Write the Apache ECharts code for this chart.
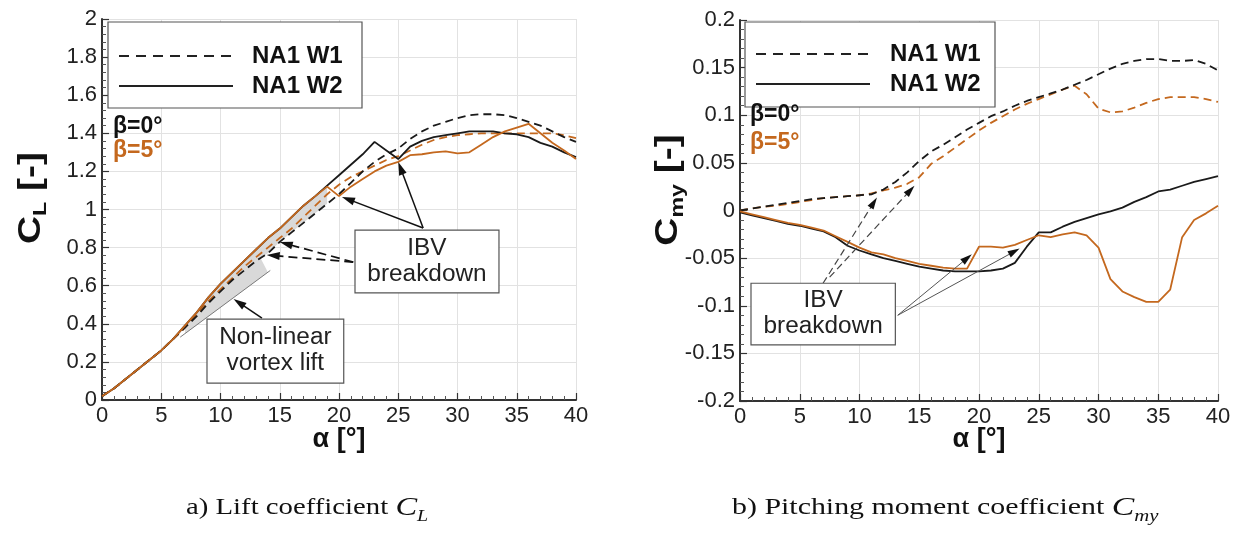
<!DOCTYPE html>
<html><head><meta charset="utf-8">
<script src="https://cdn.jsdelivr.net/npm/echarts@6/dist/echarts.min.js"></script>
<style>html,body{margin:0;padding:0;background:#fff}#c{width:1237px;height:535px}</style>
</head><body><div id="c"></div>
<script>
// ---------------- DATA ----------------
const alpha = [0,1,2,3,4,5,6,7,8,9,10,11,12,13,14,15,16,17,18,19,20,21,22,23,24,25,26,27,28,29,30,31,32,33,34,35,36,37,38,39,40];

// Lift coefficient C_L
const clW1b0 = [0.02,0.06,0.11,0.16,0.21,0.26,0.32,0.38,0.44,0.51,0.57,0.63,0.68,0.73,0.77,0.83,0.88,0.93,0.98,1.03,1.08,1.14,1.20,1.25,1.29,1.32,1.37,1.41,1.44,1.46,1.48,1.495,1.50,1.50,1.495,1.48,1.46,1.44,1.41,1.38,1.355];
const clW1b5 = [0.02,0.06,0.11,0.16,0.21,0.26,0.32,0.38,0.45,0.52,0.58,0.64,0.70,0.75,0.80,0.85,0.90,0.96,1.02,1.08,1.13,1.17,1.20,1.23,1.26,1.28,1.31,1.34,1.365,1.38,1.39,1.395,1.40,1.40,1.40,1.40,1.40,1.40,1.40,1.39,1.375];
const clW2b0 = [0.02,0.06,0.11,0.16,0.21,0.26,0.32,0.39,0.46,0.54,0.61,0.67,0.73,0.79,0.85,0.90,0.96,1.02,1.07,1.125,1.18,1.235,1.29,1.355,1.31,1.265,1.33,1.36,1.38,1.39,1.40,1.41,1.41,1.41,1.40,1.395,1.38,1.35,1.33,1.30,1.275];
const clW2b5 = [0.02,0.06,0.11,0.16,0.21,0.26,0.32,0.39,0.46,0.54,0.61,0.67,0.73,0.79,0.85,0.90,0.96,1.02,1.07,1.12,1.07,1.12,1.16,1.20,1.23,1.25,1.285,1.29,1.30,1.305,1.295,1.30,1.34,1.38,1.41,1.43,1.45,1.40,1.35,1.31,1.265];
const linearLiftAlpha = [6.6, 14.2];
const linearLiftCL = [0.33, 0.68];

// Pitching moment coefficient C_my
const cmW1b0 = [0.0,0.002,0.004,0.006,0.008,0.010,0.012,0.013,0.014,0.015,0.016,0.017,0.022,0.030,0.040,0.052,0.062,0.069,0.077,0.085,0.092,0.099,0.104,0.110,0.115,0.119,0.123,0.127,0.132,0.137,0.143,0.149,0.154,0.157,0.159,0.159,0.157,0.157,0.158,0.154,0.147];
const cmW1b5 = [0.0,0.002,0.004,0.005,0.007,0.009,0.011,0.013,0.014,0.015,0.016,0.018,0.021,0.024,0.028,0.035,0.049,0.057,0.066,0.075,0.084,0.092,0.099,0.106,0.112,0.117,0.122,0.127,0.131,0.122,0.107,0.103,0.104,0.108,0.113,0.117,0.119,0.119,0.119,0.117,0.114];
const cmW2b0 = [-0.002,-0.005,-0.008,-0.011,-0.014,-0.016,-0.019,-0.022,-0.028,-0.037,-0.042,-0.046,-0.050,-0.053,-0.056,-0.059,-0.061,-0.063,-0.064,-0.064,-0.064,-0.063,-0.061,-0.055,-0.038,-0.023,-0.023,-0.017,-0.012,-0.008,-0.004,-0.001,0.003,0.009,0.014,0.020,0.022,0.026,0.030,0.033,0.036];
const cmW2b5 = [-0.001,-0.004,-0.007,-0.010,-0.013,-0.015,-0.018,-0.021,-0.027,-0.033,-0.039,-0.044,-0.046,-0.050,-0.053,-0.056,-0.058,-0.060,-0.061,-0.061,-0.038,-0.038,-0.039,-0.036,-0.031,-0.026,-0.028,-0.025,-0.023,-0.026,-0.039,-0.072,-0.085,-0.091,-0.096,-0.096,-0.083,-0.028,-0.010,-0.003,0.005];

// Axis ticks
const xTicks = {min:0, max:40, interval:5};
const clTicks = {min:0, max:2, interval:0.2};
const cmTicks = {min:-0.2, max:0.2, interval:0.05};

// Text
const legendNames = ['NA1 W1', 'NA1 W2'];
const betaLabels = ['β=0°', 'β=5°'];
const captionA = ['a) Lift coefficient ', 'C', 'L'];
const captionB = ['b) Pitching moment coefficient ', 'C', 'my'];
const boxIBV = ['IBV', 'breakdown'];
const boxVortex = ['Non-linear', 'vortex lift'];

// Annotations (data coordinates)
const annL = {
  ibvBox: [[21.35, 0.892], [33.5, 0.562]],
  ibvSolidFrom: [27.1, 0.903], ibvSolidTo: [[25.0, 1.249], [20.25, 1.066]],
  ibvDashFrom: [21.2, 0.724], ibvDashTo: [[13.9, 0.761], [15.0, 0.829]],
  vortexBox: [[8.86, 0.425], [20.4, 0.089]],
  vortexFrom: [13.5, 0.43], vortexTo: [11.1, 0.53]
};
const annR = {
  ibvBox: [[0.92, -0.0764], [13.0, -0.141]],
  dashFrom: [[6.95, -0.0764], [7.5, -0.070]], dashTo: [[11.46, 0.0136], [14.6, 0.026]],
  solidFrom: [13.2, -0.110], solidTo: [[19.4, -0.046], [23.4, -0.040]]
};

// ---------------- STYLE ----------------
const BLACK = '#1a1a1a', ORANGE = '#c4681e', SHADE = '#d9d9d9';
const SANS = '"Liberation Sans", Arial, sans-serif';
const SERIF = '"Liberation Serif", "Times New Roman", serif';

const zip = (xs, ys) => xs.map((x, i) => [x, ys[i]]);

function axisCommon(t) {
  return {
    type: 'value', min: t.min, max: t.max, interval: t.interval,
    axisLine: {show: true, onZero: false, lineStyle: {color: '#333', width: 2}},
    axisTick: {show: true, inside: true, length: 7, lineStyle: {color: '#333', width: 1.2}},
    minorTick: {show: true, splitNumber: 5, length: 4, lineStyle: {color: '#555', width: 1}},
    splitLine: {show: true, lineStyle: {color: '#e2e2e2', width: 1}},
    axisLabel: {color: '#222', fontSize: 22, fontFamily: SANS, margin: 5}
  };
}

function lineSeries(xi, yi, data, color, dashed, z) {
  return {
    type: 'line', xAxisIndex: xi, yAxisIndex: yi, data: data, showSymbol: false, symbol: 'none',
    animation: false, z: z,
    lineStyle: {color: color, width: 1.8, type: dashed ? [8, 5] : 'solid'}
  };
}

function polygonSeries(pts) {
  return {
    type: 'custom', xAxisIndex: 0, yAxisIndex: 0, z: 1, animation: false, silent: true,
    data: [0],
    renderItem: function (params, api) {
      return {type: 'polygon', shape: {points: pts.map(p => api.coord(p))}, style: {fill: SHADE, stroke: null}};
    }
  };
}

// shading polygons derived from the series arrays
const linAt = a => linearLiftCL[0] + (linearLiftCL[1] - linearLiftCL[0]) * (a - linearLiftAlpha[0]) / (linearLiftAlpha[1] - linearLiftAlpha[0]);
const vortexPoly = [];
for (let i = 7; i <= 13; i++) vortexPoly.push([alpha[i], clW2b0[i]]);
vortexPoly.push([14, linAt(14)], [7, linAt(7)]);
const gapPoly = [];
for (let i = 13; i <= 19; i++) gapPoly.push([alpha[i], clW2b0[i]]);
for (let i = 19; i >= 13; i--) gapPoly.push([alpha[i], clW1b0[i]]);

const chart = echarts.init(document.getElementById('c'), null, {renderer: 'canvas'});
const option = {
  backgroundColor: '#fff',
  animation: false,
  grid: [
    {left: 102, right: 1237 - 576, top: 19, bottom: 535 - 400},
    {left: 740, right: 1237 - 1218, top: 20, bottom: 535 - 401}
  ],
  xAxis: [
    Object.assign(axisCommon(xTicks), {gridIndex: 0}),
    Object.assign(axisCommon(xTicks), {gridIndex: 1})
  ],
  yAxis: [
    Object.assign(axisCommon(clTicks), {gridIndex: 0}),
    Object.assign(axisCommon(cmTicks), {gridIndex: 1})
  ],
  series: [
    polygonSeries(vortexPoly),
    polygonSeries(gapPoly),
    {type: 'line', xAxisIndex: 0, yAxisIndex: 0, data: zip(linearLiftAlpha, linearLiftCL), showSymbol: false,
     symbol: 'none', z: 2, lineStyle: {color: '#7a7a7a', width: 1}},
    lineSeries(0, 0, zip(alpha, clW1b5), ORANGE, true, 3),
    lineSeries(0, 0, zip(alpha, clW1b0), BLACK, true, 3),
    lineSeries(0, 0, zip(alpha, clW2b0), BLACK, false, 4),
    lineSeries(0, 0, zip(alpha, clW2b5), ORANGE, false, 4),
    lineSeries(1, 1, zip(alpha, cmW1b5), ORANGE, true, 3),
    lineSeries(1, 1, zip(alpha, cmW1b0), BLACK, true, 3),
    lineSeries(1, 1, zip(alpha, cmW2b0), BLACK, false, 4),
    lineSeries(1, 1, zip(alpha, cmW2b5), ORANGE, false, 4)
  ]
};
chart.setOption(option);

// ---------------- ANNOTATIONS ----------------
const px = (g, p) => chart.convertToPixel({gridIndex: g}, p);
const G = [];

function arrow(p0, p1, opt) {
  const dx = p1[0] - p0[0], dy = p1[1] - p0[1];
  const L = Math.hypot(dx, dy), ux = dx / L, uy = dy / L;
  const hl = opt.hl || 13, hw = opt.hw || 8;
  const bx = p1[0] - ux * hl, by = p1[1] - uy * hl;
  G.push({type: 'line', z: 50, shape: {x1: p0[0], y1: p0[1], x2: bx + ux * 2, y2: by + uy * 2},
    style: {stroke: opt.color, lineWidth: opt.lw, lineDash: opt.dash || null}});
  G.push({type: 'polygon', z: 51, shape: {points: [p1, [bx - uy * hw / 2, by + ux * hw / 2], [bx + uy * hw / 2, by - ux * hw / 2]]},
    style: {fill: opt.head || '#111'}});
}

function box(g, corners, lines, fontSize) {
  const a = px(g, corners[0]), b = px(g, corners[1]);
  const x = Math.min(a[0], b[0]), y = Math.min(a[1], b[1]);
  const w = Math.abs(b[0] - a[0]), h = Math.abs(b[1] - a[1]);
  G.push({type: 'rect', z: 60, shape: {x: x, y: y, width: w, height: h},
    style: {fill: '#fff', stroke: '#555', lineWidth: 1.2}});
  G.push({type: 'text', z: 61, x: x + w / 2, y: y + h / 2, scaleX: 1.06,
    style: {text: lines.join('\n'), font: fontSize + 'px ' + SANS, fill: '#222', align: 'center', verticalAlign: 'middle', lineHeight: fontSize + 3}});
}

// left chart annotations
annL.ibvSolidTo.forEach(t => arrow(px(0, annL.ibvSolidFrom), px(0, t), {color: '#111', lw: 1.5}));
annL.ibvDashTo.forEach(t => arrow(px(0, annL.ibvDashFrom), px(0, t), {color: '#111', lw: 1.7, dash: [9, 5]}));
arrow(px(0, annL.vortexFrom), px(0, annL.vortexTo), {color: '#111', lw: 1.5});
box(0, annL.ibvBox, boxIBV, 23);
box(0, annL.vortexBox, boxVortex, 23);

// right chart annotations
annR.dashTo.forEach((t, i) => arrow(px(1, annR.dashFrom[i]), px(1, t), {color: '#444', lw: 1.2, dash: [7, 4], hl: 12, hw: 7}));
annR.solidTo.forEach(t => arrow(px(1, annR.solidFrom), px(1, t), {color: '#555', lw: 1, hl: 12, hw: 7}));
box(1, annR.ibvBox, boxIBV, 23);

// legends
function legend(x, y, w, h, lx1, lx2, ly, tx) {
  G.push({type: 'rect', z: 70, shape: {x: x, y: y, width: w, height: h}, style: {fill: '#fff', stroke: '#555', lineWidth: 1.2}});
  G.push({type: 'line', z: 71, shape: {x1: lx1, y1: ly[0], x2: lx2, y2: ly[0]}, style: {stroke: '#222', lineWidth: 2, lineDash: [10, 7]}});
  G.push({type: 'line', z: 71, shape: {x1: lx1, y1: ly[1], x2: lx2, y2: ly[1]}, style: {stroke: '#222', lineWidth: 2}});
  legendNames.forEach((n, i) => G.push({type: 'text', z: 72, x: tx, y: ly[i],
    style: {text: n, font: 'bold 24px ' + SANS, fill: '#111', align: 'left', verticalAlign: 'middle'}}));
}
legend(108, 22, 254, 86, 119, 233, [56, 86], 252);
legend(745, 22, 250, 85, 756, 870, [54, 84], 890);

function betas(x, ys) {
  betaLabels.forEach((b, i) => G.push({type: 'text', z: 72, x: x, y: ys[i],
    style: {text: b, font: 'bold 23px ' + SANS, fill: i === 0 ? '#111' : ORANGE, align: 'left', verticalAlign: 'middle'}}));
}
betas(113, [127, 151]);
betas(750, [115, 143]);

// axis titles
function yTitle(x, y, sub) {
  G.push({type: 'text', z: 80, x: x, y: y, rotation: Math.PI / 2, scaleX: 1.22,
    style: {text: '{c|C}{s|' + sub + '}{c| [-]}', align: 'center', verticalAlign: 'middle',
      rich: {c: {font: 'bold 32px ' + SANS, fill: '#111', lineHeight: 38, verticalAlign: 'middle'},
             s: {font: 'bold 19px ' + SANS, fill: '#111', lineHeight: 38, verticalAlign: 'bottom'}}}});
}
yTitle(31, 198, 'L');
yTitle(668, 190, 'my');
[[339, 440], [979, 440]].forEach(p => G.push({type: 'text', z: 80, x: p[0], y: p[1],
  style: {text: 'α [°]', font: 'bold 27px ' + SANS, fill: '#111', align: 'center', verticalAlign: 'middle'}}));

// captions
function caption(x, y, parts, sx) {
  G.push({type: 'text', z: 80, x: x, y: y, scaleX: sx,
    style: {text: '{n|' + parts[0] + '}{i|' + parts[1] + '}{s|' + parts[2] + '}', align: 'left', verticalAlign: 'middle',
      rich: {n: {font: '23px ' + SERIF, fill: '#111', lineHeight: 34, verticalAlign: 'middle'},
             i: {font: 'italic 26px ' + SERIF, fill: '#111', lineHeight: 34, verticalAlign: 'middle'},
             s: {font: 'italic 16px ' + SERIF, fill: '#111', lineHeight: 34, verticalAlign: 'bottom'}}}});
}
caption(186, 508, captionA, 1.25);
caption(732, 508, captionB, 1.3);

chart.setOption({graphic: G});
</script></body></html>
